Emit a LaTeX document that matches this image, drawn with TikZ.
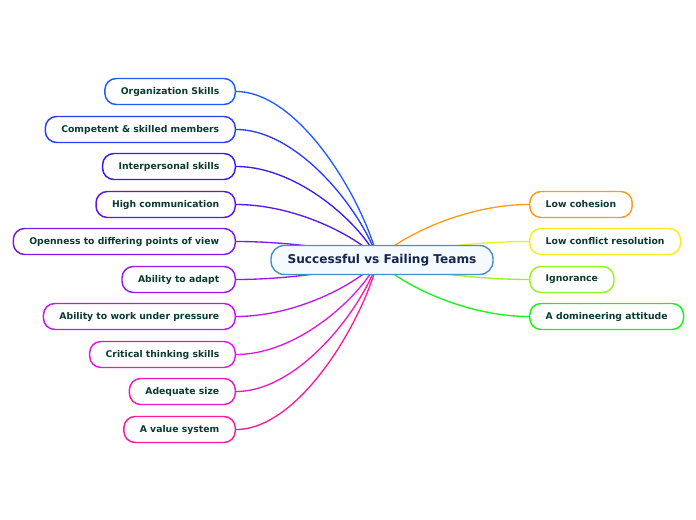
\documentclass[tikz,border=0pt]{standalone}
\usepackage{fontspec}
\setmainfont{DejaVu Sans}
\usetikzlibrary{calc}
\definecolor{ca}{HTML}{1F5BFF}
\definecolor{cb}{HTML}{2B3BFF}
\definecolor{cc}{HTML}{3A1BF0}
\definecolor{cd}{HTML}{5A16F0}
\definecolor{ce}{HTML}{7A18F0}
\definecolor{cf}{HTML}{9A18F0}
\definecolor{cg}{HTML}{BE18EE}
\definecolor{ch}{HTML}{E018E0}
\definecolor{ci}{HTML}{F018C0}
\definecolor{cj}{HTML}{FF1A9A}
\definecolor{ra}{HTML}{FF9A1A}
\definecolor{rb}{HTML}{F2F21A}
\definecolor{rc}{HTML}{99F21A}
\definecolor{rd}{HTML}{1AF21A}
\definecolor{txt}{HTML}{0B3A30}
\definecolor{ctrtxt}{HTML}{14254F}
\definecolor{ctrline}{HTML}{4A90C8}
\definecolor{ctrfill}{HTML}{F5FAFE}
\tikzset{
  topic/.style={draw, line width=1.1pt, rounded corners=8.5pt, fill=white,
    minimum height=19.5pt, inner xsep=12pt, inner ysep=0pt,
    font=\bfseries\fontsize{6.95}{8}\selectfont, text=txt},
  lefttopic/.style={topic, anchor=east},
  righttopic/.style={topic, anchor=west},
  central/.style={draw=ctrline, line width=1.1pt, rounded corners=10pt, fill=ctrfill,
    minimum height=21.75pt, minimum width=166.5pt, inner ysep=0pt,
    font=\bfseries\fontsize{9.1}{11}\selectfont, text=ctrtxt},
  link/.style={line width=1pt}
}
\newcommand{\leftlink}[2]{%
  \draw[link,#2] let \p1=(#1.east), \p2=(hub) in
    (\p1) .. controls ({\x1+0.45*(\x2-\x1)},\y1) and ({\x2-0.1*(\x2-\x1)},{\y2+0.35*(\y1-\y2)}) .. (\p2);}
\newcommand{\rightlink}[2]{%
  \draw[link,#2] let \p1=(#1.west), \p2=(hub) in
    (\p1) .. controls ({\x1+0.45*(\x2-\x1)},\y1) and ({\x2-0.1*(\x2-\x1)},{\y2+0.35*(\y1-\y2)}) .. (\p2);}
\begin{document}
\begin{tikzpicture}[x=0.75pt,y=-0.75pt]
\useasboundingbox (0,0) rectangle (696,520);
\coordinate (hub) at (378,260);
\node[lefttopic,draw=ca] (n1) at (236,91.5) {Organization Skills};
\node[lefttopic,draw=cb] (n2) at (236,129.5) {Competent \& skilled members};
\node[lefttopic,draw=cc] (n3) at (236,166.5) {Interpersonal skills};
\node[lefttopic,draw=cd] (n4) at (236,204.5) {High communication};
\node[lefttopic,draw=ce] (n5) at (236,241.5) {Openness to differing points of view};
\node[lefttopic,draw=cf] (n6) at (236,279.5) {Ability to adapt};
\node[lefttopic,draw=cg] (n7) at (236,316.5) {Ability to work under pressure};
\node[lefttopic,draw=ch] (n8) at (236,354.5) {Critical thinking skills};
\node[lefttopic,draw=ci] (n9) at (236,391.5) {Adequate size};
\node[lefttopic,draw=cj] (n10) at (236,429.5) {A value system};
\node[righttopic,draw=ra] (r1) at (529,204.5) {Low cohesion};
\node[righttopic,draw=rb] (r2) at (529,241.5) {Low conflict resolution};
\node[righttopic,draw=rc] (r3) at (529,279.5) {Ignorance};
\node[righttopic,draw=rd] (r4) at (529,316.5) {A domineering attitude};
\leftlink{n1}{ca}
\leftlink{n2}{cb}
\leftlink{n3}{cc}
\leftlink{n4}{cd}
\leftlink{n5}{ce}
\leftlink{n6}{cf}
\leftlink{n7}{cg}
\leftlink{n8}{ch}
\leftlink{n9}{ci}
\leftlink{n10}{cj}
\rightlink{r1}{ra}
\rightlink{r2}{rb}
\rightlink{r3}{rc}
\rightlink{r4}{rd}
\node[central] (ctr) at (382,260) {Successful vs Failing Teams};
\end{tikzpicture}
\end{document}
